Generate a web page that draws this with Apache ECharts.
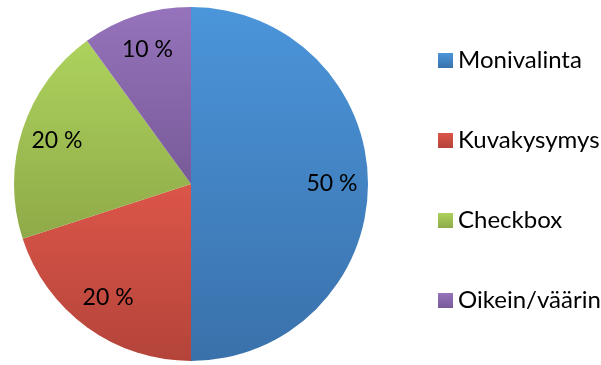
<!DOCTYPE html>
<html>
<head>
<meta charset="utf-8">
<script src="https://cdn.jsdelivr.net/npm/echarts@6/dist/echarts.min.js"></script>
<style>
  html, body { margin: 0; padding: 0; background: #ffffff; }
  #chart { width: 601px; height: 365px; }
</style>
</head>
<body>
<div id="chart"></div>
<script>
// Question types and their share (%)
const categories = ['Monivalinta', 'Kuvakysymys', 'Checkbox', 'Oikein/väärin'];
const shares = [50, 20, 20, 10];
// Vertical shading per slice: lighter top, darker bottom
const topColors = ['#4B95DA', '#DC5549', '#ADD25D', '#9673BC'];
const bottomColors = ['#3A71AB', '#B4443A', '#8FAA48', '#785A98'];

function shade(i) {
  return {
    type: 'linear', x: 0, y: 0, x2: 0, y2: 1,
    colorStops: [
      { offset: 0, color: topColors[i] },
      { offset: 1, color: bottomColors[i] }
    ]
  };
}

const FONT = 'Lato';
const center = [191, 184];
const R = 177;

const pieData = categories.map((name, i) => ({
  name, value: shares[i], itemStyle: { color: shade(i) }
}));
// Transparent ring carrying the percentage labels further out than mid-radius
const labelData = categories.map((name, i) => ({
  name, value: shares[i], itemStyle: { color: 'rgba(0,0,0,0)' }
}));

const chart = echarts.init(document.getElementById('chart'), null, { renderer: 'canvas' });
chart.setOption({
  backgroundColor: '#ffffff',
  animation: false,
  legend: {
    orient: 'vertical',
    left: 433,
    top: 43,
    itemWidth: 15,
    itemHeight: 15,
    itemGap: 55,
    icon: 'rect',
    selectedMode: false,
    data: categories,
    textStyle: { fontFamily: FONT, fontSize: 24, color: '#000000', lineHeight: 25 }
  },
  series: [
    {
      type: 'pie',
      center: center,
      radius: [0, R],
      startAngle: 90,
      clockwise: true,
      silent: true,
      label: { show: false },
      labelLine: { show: false },
      itemStyle: { borderWidth: 0 },
      data: pieData
    },
    {
      type: 'pie',
      center: center,
      radius: [99, R],
      startAngle: 90,
      clockwise: true,
      silent: true,
      legendHoverLink: false,
      label: {
        show: true,
        position: 'inside',
        formatter: '{c} %',
        fontFamily: FONT,
        fontSize: 23,
        color: '#000000'
      },
      labelLine: { show: false },
      itemStyle: { borderWidth: 0 },
      data: labelData
    }
  ]
});
</script>
</body>
</html>
